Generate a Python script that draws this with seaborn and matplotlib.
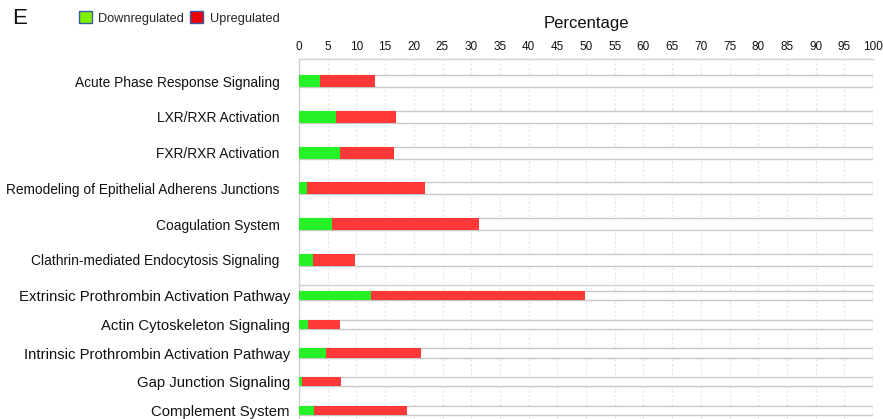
import matplotlib
matplotlib.use("Agg")
import matplotlib.pyplot as plt
from matplotlib.patches import Patch
import seaborn as sns
import pandas as pd

# ---- data ----
pathways = [
    "Acute Phase Response Signaling",
    "LXR/RXR Activation",
    "FXR/RXR Activation",
    "Remodeling of Epithelial Adherens Junctions",
    "Coagulation System",
    "Clathrin-mediated Endocytosis Signaling",
    "Extrinsic Prothrombin Activation Pathway",
    "Actin Cytoskeleton Signaling",
    "Intrinsic Prothrombin Activation Pathway",
    "Gap Junction Signaling",
    "Complement System",
]
downregulated = [3.7, 6.4, 7.1, 1.4, 5.7, 2.5, 12.5, 1.5, 4.7, 0.5, 2.6]
upregulated = [9.6, 10.5, 9.5, 20.6, 25.7, 7.3, 37.3, 5.6, 16.6, 6.9, 16.2]
panel_sizes = [6, 5]          # the figure is two stacked panels
xticks = list(range(0, 101, 5))
legend_labels = ["Downregulated", "Upregulated"]

# ---- styles ----
GREEN = "#26f026"
RED = "#ff3838"
EDGE = "#c8c8c8"
FONT = ["Liberation Sans", "DejaVu Sans"]

sns.set_theme(style="white")
plt.rcParams["font.family"] = FONT

df = pd.DataFrame({"pathway": pathways, "down": downregulated, "up": upregulated})
df["total"] = df["down"] + df["up"]
df["full"] = 100.0

fig = plt.figure(figsize=(8.83, 4.19), dpi=100)
W, H = 883, 419
left = 299 / W
right = 873 / W
# panel extents in pixels (top, bottom), y padding, label size, label pad, bar width
panels = [(59, 283, 0.62, 0.65, 9.9, 14, 0.34),
          (285, 419, 0.38, 0.31, 10.7, 6.5, 0.32)]

start = 0
for i, (n, (ptop, pbot, pad_top, pad_bot, lsize, lpad, bw)) in enumerate(zip(panel_sizes, panels)):
    sub = df.iloc[start:start + n].reset_index(drop=True)
    start += n
    ax = fig.add_axes([left, 1 - pbot / H, right - left, (pbot - ptop) / H])
    order = list(sub["pathway"])
    sns.barplot(data=sub, x="full", y="pathway", order=order, orient="h",
                color="white", edgecolor=EDGE, linewidth=1.0, width=bw,
                saturation=1, ax=ax, zorder=2)
    sns.barplot(data=sub, x="total", y="pathway", order=order, orient="h",
                color=RED, linewidth=0, width=bw, saturation=1, ax=ax, zorder=3)
    sns.barplot(data=sub, x="down", y="pathway", order=order, orient="h",
                color=GREEN, linewidth=0, width=bw, saturation=1, ax=ax, zorder=4)
    ax.set_xlim(0, 100)
    ax.set_ylim(n - 1 + pad_bot, -pad_top)
    ax.set_xticks(xticks)
    ax.xaxis.grid(True, color="#e4e4e4", linestyle=(0, (2, 2)), linewidth=0.8, zorder=0)
    ax.yaxis.grid(False)
    ax.set_axisbelow(True)
    ax.set_ylabel("")
    ax.tick_params(axis="y", length=0, labelsize=lsize, pad=lpad, colors="#111111")
    for s in ["right", "bottom"]:
        ax.spines[s].set_visible(False)
    for s in ["left", "top"]:
        ax.spines[s].set_color("#cfcfcf")
        ax.spines[s].set_linewidth(1.0)
    if i == 0:
        ax.xaxis.tick_top()
        ax.xaxis.set_label_position("top")
        ax.tick_params(axis="x", length=0, labelsize=8.5, pad=4, colors="#111111")
        ax.set_xlabel("Percentage", fontsize=12, labelpad=10, color="#111111")
    else:
        ax.tick_params(axis="x", length=0, labelbottom=False, labeltop=False)
        ax.set_xlabel("")

fig.text(12 / W, 1 - 19 / H, "E", fontsize=16, va="center", ha="left", color="#111111")

handles = [Patch(facecolor="#80f000", edgecolor="#3a5aa8", linewidth=1.0),
           Patch(facecolor="#ee0000", edgecolor="#3a5aa8", linewidth=1.0)]
fig.legend(handles, legend_labels, loc="center left", bbox_to_anchor=(79 / W, 1 - 18 / H),
           ncol=2, frameon=False, fontsize=9.2, handlelength=1.0, handleheight=1.0,
           handletextpad=0.5, columnspacing=0.5, borderpad=0, borderaxespad=0)

fig.savefig("out.png", dpi=100)
